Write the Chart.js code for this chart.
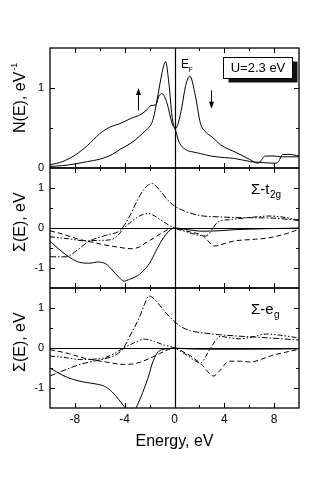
<!DOCTYPE html>
<html>
<head>
<meta charset="utf-8">
<script src="https://cdn.jsdelivr.net/npm/chart.js@4.4.1/dist/chart.umd.min.js"></script>
<style>
  html, body { margin: 0; padding: 0; background: #fff; }
  #wrap { position: relative; width: 333px; height: 479px; }
  #wrap canvas { position: absolute; left: 0; top: 0; }
</style>
</head>
<body>
<div id="wrap">
  <canvas id="dos" width="333" height="479"></canvas>
  <canvas id="t2g" width="333" height="479"></canvas>
  <canvas id="eg" width="333" height="479"></canvas>
</div>
<script>
// energy ticks (eV), labels only every 4 eV
const xTickVals = [-10, -8, -6, -4, -2, 0, 2, 4, 6, 8, 10];

// --- N(E), spin up / spin down ---
const dosUpE = [-10, -9, -8, -7, -6, -5.2, -4.3, -3.5, -2.7, -2.2, -1.9, -1.5, -1.25, -1.0, -0.6, -0.2, 0.07, 0.35, 0.9, 1.5, 2.1, 2.9, 4, 4.8, 6.1, 6.9, 8, 8.3, 8.7, 9.2, 10];
const dosUpN = [0.04, 0.08, 0.16, 0.28, 0.43, 0.51, 0.56, 0.62, 0.67, 0.73, 0.78, 0.79, 0.9, 0.93, 0.81, 0.56, 0.48, 0.33, 0.23, 0.2, 0.18, 0.15, 0.13, 0.12, 0.08, 0.07, 0.06, 0.07, 0.17, 0.17, 0.15];
const dosDnE = [-10, -9, -8, -7, -6, -5, -4.3, -3.5, -2.8, -2.3, -1.9, -1.7, -1.4, -1.0, -0.72, -0.45, -0.2, 0.07, 0.3, 0.6, 0.88, 1.23, 1.68, 2.08, 2.5, 3, 3.7, 5, 6, 6.7, 7.3, 8, 8.5, 10];
const dosDnN = [0.02, 0.03, 0.05, 0.08, 0.11, 0.17, 0.24, 0.31, 0.4, 0.47, 0.54, 0.62, 0.85, 1.19, 1.33, 1.06, 0.65, 0.49, 0.56, 0.77, 1.02, 1.15, 0.9, 0.56, 0.45, 0.39, 0.29, 0.19, 0.11, 0.06, 0.15, 0.15, 0.14, 0.14];

// --- Sigma t2g ---
const t2gSolidE = [-10, -9.2, -8.4, -7.6, -6.8, -6.2, -5.5, -5, -4.5, -4.05, -3.6, -3, -2.6, -2, -1.5, -1, -0.45, 0, 1, 2.3, 3.5, 5, 7, 10];
const t2gSolidS = [-0.33, -0.55, -0.74, -0.86, -0.88, -0.85, -0.9, -1.05, -1.22, -1.33, -1.28, -1.2, -1.1, -0.88, -0.58, -0.3, -0.08, 0, -0.04, -0.08, -0.07, -0.04, -0.02, 0];
const t2gDashE = [-10, -9, -7.6, -6.5, -5.8, -4.5, -3.4, -2.8, -2.3, -1.5, -1, -0.5, 0, 1, 2.3, 3.2, 4, 4.7, 6.5, 7.5, 9, 10];
const t2gDashS = [-0.07, -0.15, -0.29, -0.36, -0.41, -0.48, -0.52, -0.47, -0.37, -0.22, -0.12, -0.04, 0, -0.08, -0.2, -0.45, -0.39, -0.33, -0.28, -0.25, -0.14, -0.03];
const t2gDashDotE = [-10, -8.7, -7.8, -6.85, -5.5, -4.3, -3.6, -3.1, -2.5, -1.8, -1.2, -0.6, 0, 0.6, 1.3, 2.3, 3.5, 5, 7.7, 10];
const t2gDashDotS = [-0.72, -0.72, -0.55, -0.33, -0.18, -0.04, 0.3, 0.62, 0.95, 1.11, 0.95, 0.72, 0.55, 0.45, 0.37, 0.3, 0.28, 0.26, 0.25, 0.19];
const t2gDotE = [-10, -8.5, -7.2, -6, -5.1, -4.6, -4.05, -3.3, -2.6, -2.1, -1.6, -1, -0.5, 0, 1, 1.8, 2.5, 3.5, 4.5, 6, 7.6, 8.5, 10];
const t2gDotS = [-0.22, -0.27, -0.32, -0.31, -0.29, -0.2, 0, 0.2, 0.33, 0.36, 0.3, 0.18, 0.08, 0, -0.1, -0.17, -0.2, 0.15, 0.21, 0.26, 0.3, 0.28, 0.2];

// --- Sigma eg ---
const egSolidE = [-10, -9, -8.2, -7.3, -6.3, -5.6, -5, -4.5, -4.05, -3.6, -3.2, -2.8, -2.3, -2, -1.8, -1.4, -1, -0.5, 0, 1, 3, 6, 10];
const egSolidS = [-0.5, -0.68, -0.78, -0.85, -0.9, -0.96, -1.1, -1.28, -1.46, -1.6, -1.55, -1.3, -0.9, -0.62, -0.4, -0.13, -0.04, -0.02, 0, -0.02, -0.03, -0.03, -0.02];
const egDashE = [-10, -8.5, -7.3, -5.5, -4.1, -3.4, -2.8, -2, -1.2, -0.5, 0, 0.6, 1.3, 2.2, 3.15, 3.6, 4.4, 5.3, 6.1, 7, 7.7, 9, 10];
const egDashS = [-0.04, -0.14, -0.25, -0.35, -0.41, -0.4, -0.36, -0.26, -0.14, -0.04, 0, -0.08, -0.2, -0.42, -0.7, -0.58, -0.33, -0.33, -0.35, -0.28, -0.2, -0.1, -0.03];
const egDashDotE = [-10, -8.8, -7.6, -6.5, -5.5, -4.6, -4.1, -3.5, -2.8, -2.4, -2.05, -1.6, -1.2, -0.6, 0, 0.6, 1.3, 2.5, 3.7, 5.5, 7.7, 10];
const egDashDotS = [-0.7, -0.55, -0.41, -0.33, -0.26, -0.15, 0, 0.35, 0.78, 1.1, 1.3, 1.22, 1.07, 0.85, 0.66, 0.52, 0.43, 0.37, 0.33, 0.29, 0.25, 0.2];
const egDotE = [-10, -8.5, -7.6, -6.5, -5.7, -4.9, -4.1, -3.3, -2.4, -1.6, -0.8, 0, 1, 2.1, 2.8, 3.7, 4.5, 5.3, 6.3, 7.4, 8.5, 10];
const egDotS = [-0.2, -0.25, -0.29, -0.28, -0.25, -0.15, 0, 0.12, 0.22, 0.16, 0.07, 0, -0.18, -0.37, -0.05, 0.29, 0.25, 0.23, 0.28, 0.35, 0.32, 0.25];

const FONT = "'Liberation Sans', Arial, sans-serif";
Chart.defaults.font.family = FONT;
Chart.defaults.color = '#000';

const DASH = {
  solid: [],
  dash: [5, 3],
  dashDot: [6, 2, 1.5, 2],
  dashDotDot: [5, 2, 1.5, 2, 1.5, 2]
};

function line(label, e, v, dash) {
  return {
    label: label,
    data: e.map((x, i) => ({ x: x, y: v[i] })),
    borderColor: '#000',
    borderWidth: 1,
    borderDash: dash,
    pointRadius: 0,
    fill: false,
    cubicInterpolationMode: 'monotone'
  };
}

// box, inward tick marks, zero lines and rotated y title
function framePlugin(zeroH, title, titleStart, sup) {
  return {
    id: 'frame',
    afterDatasetsDraw(chart) {
      const { ctx, chartArea: a, scales: { x, y } } = chart;
      ctx.save();
      ctx.strokeStyle = '#000';
      ctx.lineWidth = 1;
      ctx.beginPath();
      xTickVals.forEach(v => {
        if (v <= -10 || v >= 10) return;
        const px = Math.round(x.getPixelForValue(v)) + 0.5;
        const len = v % 4 === 0 ? 5 : 3;
        ctx.moveTo(px, a.top); ctx.lineTo(px, a.top + len);
        ctx.moveTo(px, a.bottom); ctx.lineTo(px, a.bottom - len);
      });
      y.ticks.forEach(t => {
        if (t.value <= y.min || t.value >= y.max) return;
        const py = Math.round(y.getPixelForValue(t.value)) + 0.5;
        const len = Number.isInteger(t.value) ? 5 : 3;
        ctx.moveTo(a.left, py); ctx.lineTo(a.left + len, py);
        ctx.moveTo(a.right, py); ctx.lineTo(a.right - len, py);
      });
      ctx.stroke();

      // zero lines
      ctx.lineWidth = 1.2;
      ctx.beginPath();
      const x0 = Math.round(x.getPixelForValue(0)) + 0.5;
      ctx.moveTo(x0, a.top); ctx.lineTo(x0, a.bottom);
      if (zeroH) {
        const y0 = Math.round(y.getPixelForValue(0)) + 0.5;
        ctx.moveTo(a.left, y0); ctx.lineTo(a.right, y0);
      }
      ctx.stroke();

      ctx.lineWidth = 1.3;
      ctx.strokeRect(a.left, a.top, a.right - a.left, a.bottom - a.top);

      // y title
      ctx.fillStyle = '#000';
      ctx.translate(21, titleStart);
      ctx.rotate(-Math.PI / 2);
      ctx.font = '16px ' + FONT;
      ctx.textAlign = 'left';
      ctx.textBaseline = 'middle';
      ctx.fillText(title, 0, 0);
      if (sup) {
        const w = ctx.measureText(title).width;
        ctx.font = '9px ' + FONT;
        ctx.fillText(sup, w + 1, -6);
      }
      ctx.restore();
    }
  };
}

function arrow(ctx, px, yFrom, yTo) {
  const dir = Math.sign(yTo - yFrom);
  ctx.beginPath();
  ctx.moveTo(px, yFrom);
  ctx.lineTo(px, yTo - dir * 5);
  ctx.stroke();
  ctx.beginPath();
  ctx.moveTo(px, yTo);
  ctx.lineTo(px - 2.5, yTo - dir * 7);
  ctx.lineTo(px + 2.5, yTo - dir * 7);
  ctx.closePath();
  ctx.fill();
}

const dosNotes = {
  id: 'dosNotes',
  afterDatasetsDraw(chart) {
    const { ctx, scales: { x, y } } = chart;
    ctx.save();
    ctx.fillStyle = '#000';
    ctx.strokeStyle = '#000';
    ctx.lineWidth = 1;
    const x0 = x.getPixelForValue(0);
    ctx.font = '12px ' + FONT;
    ctx.fillText('E', x0 + 6.5, 68);
    ctx.font = '7px ' + FONT;
    ctx.fillText('F', x0 + 14, 72);

    // U box with shadow
    const bx = 223.5, by = 57.5, bw = 69, bh = 21;
    ctx.fillStyle = '#111';
    ctx.fillRect(bx + 5, by + 4, bw, bh);
    ctx.fillStyle = '#fff';
    ctx.fillRect(bx, by, bw, bh);
    ctx.strokeRect(bx, by, bw, bh);
    ctx.fillStyle = '#000';
    ctx.font = '13px ' + FONT;
    ctx.textAlign = 'center';
    ctx.textBaseline = 'middle';
    ctx.fillText('U=2.3 eV', bx + bw / 2, by + bh / 2 + 0.5);

    arrow(ctx, Math.round(x.getPixelForValue(-2.9)) + 0.5, y.getPixelForValue(0.72), y.getPixelForValue(1.0));
    arrow(ctx, Math.round(x.getPixelForValue(2.95)) + 0.5, y.getPixelForValue(0.97), y.getPixelForValue(0.74));
    ctx.restore();
  }
};

function sigmaLabel(main, sub) {
  return {
    id: 'sigmaLabel',
    afterDatasetsDraw(chart) {
      const { ctx, chartArea: a } = chart;
      ctx.save();
      ctx.fillStyle = '#000';
      ctx.font = '15px ' + FONT;
      ctx.fillText(main, 251, a.top + 25.5);
      const w = ctx.measureText(main).width;
      ctx.font = '10px ' + FONT;
      ctx.fillText(sub, 251 + w + 0.5, a.top + 30);
      ctx.restore();
    }
  };
}

function makePanel(id, datasets, yMin, yMax, yLabel, padTop, padBottom, showX, plugins) {
  return new Chart(document.getElementById(id), {
    type: 'line',
    data: { datasets: datasets },
    options: {
      responsive: false,
      animation: false,
      layout: { padding: { top: padTop, bottom: padBottom, left: 0, right: 34 } },
      plugins: { legend: { display: false }, tooltip: { enabled: false } },
      scales: {
        x: {
          type: 'linear',
          min: -10,
          max: 10,
          display: showX,
          grid: { display: false, drawTicks: false },
          border: { display: false },
          ticks: {
            stepSize: 2,
            autoSkip: false,
            maxRotation: 0,
            padding: 4,
            font: { size: 12 },
            callback: v => (v % 4 === 0 ? String(v) : '')
          },
          title: { display: showX, text: 'Energy, eV', font: { size: 16 }, padding: { top: 0, bottom: 4 } },
          afterFit: s => { s.height = showX ? 47 : 0; }
        },
        y: {
          min: yMin,
          max: yMax,
          grid: { display: false, drawTicks: false },
          border: { display: false },
          ticks: {
            stepSize: 0.5,
            padding: 6,
            font: { size: 11 },
            callback: yLabel
          },
          afterFit: s => { s.width = 50; }
        }
      }
    },
    plugins: plugins
  });
}

makePanel('dos', [
  line('spin up', dosUpE, dosUpN, DASH.solid),
  line('spin down', dosDnE, dosDnN, DASH.solid)
], 0, 1.5, v => (v === 0 || v === 1 ? String(v) : ''), 48, 479 - 168, false,
  [framePlugin(false, 'N(E), eV', 133, '-1'), dosNotes]);

const intLabel = v => (Number.isInteger(v) ? String(v) : '');

makePanel('t2g', [
  line('Σ1', t2gSolidE, t2gSolidS, DASH.solid),
  line('Σ2', t2gDashE, t2gDashS, DASH.dash),
  line('Σ3', t2gDashDotE, t2gDashDotS, DASH.dashDot),
  line('Σ4', t2gDotE, t2gDotS, DASH.dashDotDot)
], -1.5, 1.5, intLabel, 168, 479 - 288, false,
  [framePlugin(true, 'Σ(E), eV', 252), sigmaLabel('Σ-t', '2g')]);

makePanel('eg', [
  line('Σ1', egSolidE, egSolidS, DASH.solid),
  line('Σ2', egDashE, egDashS, DASH.dash),
  line('Σ3', egDashDotE, egDashDotS, DASH.dashDot),
  line('Σ4', egDotE, egDotS, DASH.dashDotDot)
], -1.5, 1.5, intLabel, 288, 24, true,
  [framePlugin(true, 'Σ(E), eV', 372), sigmaLabel('Σ-e', 'g')]);
</script>
</body>
</html>
